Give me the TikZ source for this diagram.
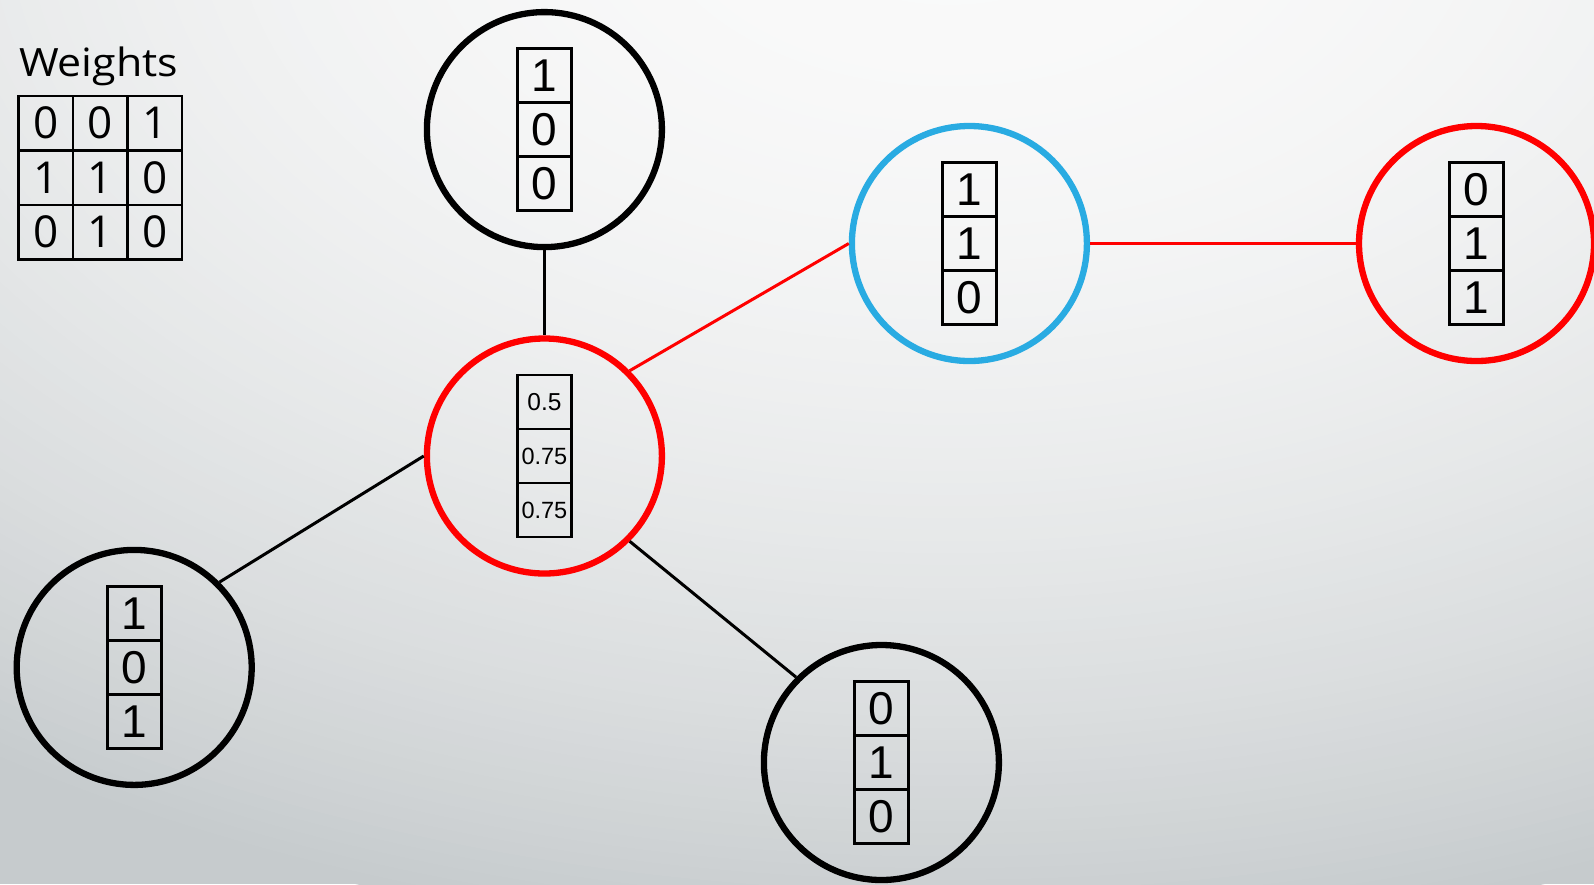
\documentclass[tikz,border=0pt]{standalone}
\usepackage{graphicx}
\usepackage{fontspec}
\setmainfont{Liberation Sans}
\newfontfamily\uifont{Open Sans}

% soft background glow, brightest near the top
\definecolor{glowlight}{HTML}{FAFAFA}
\definecolor{glowdark}{HTML}{C6CBCD}
\definecolor{netred}{RGB}{255,0,0}
\definecolor{netblue}{RGB}{41,171,226}

\newcommand\cellstack[5]{%
  \node[cell,#5] (#1-2) at (#1.center) {#3};
  \node[cell,#5] (#1-1) at ([yshift=54pt]#1.center) {#2};
  \node[cell,#5] (#1-3) at ([yshift=-54pt]#1.center) {#4};
}

\begin{document}
\begin{tikzpicture}[x=1pt,y=-1pt,
  vertex/.style={circle, draw, line width=6.3pt, minimum size=235pt, inner sep=0pt},
  cell/.style={rectangle, draw, line width=2.7pt, minimum width=54pt, minimum height=54pt,
               inner sep=0pt, outer sep=0pt},
  bigdigit/.style={font=\fontsize{46}{46}\selectfont},
  smalldigit/.style={font=\fontsize{23.5}{23.5}\selectfont},
  wcell/.style={cell, minimum width=54.5pt, minimum height=54.5pt, font=\uifont\fontsize{44}{44}\selectfont},
  link/.style={line width=3pt}]

\useasboundingbox (0,0) rectangle (1594,884);
% background: nested ellipses stepping from grey to near white
\begin{scope}
  \clip (0,0) rectangle (1594,884);
  \fill[glowdark] (0,0) rectangle (1594,884);
  \foreach \i in {90,89,...,1} {
    \pgfmathsetmacro\t{\i/90}
    \pgfmathsetmacro\p{100*\t*\t}
    \fill[glowdark!\p!glowlight] (950,-100) ellipse [x radius=1700pt*\t, y radius=1050pt*\t];
  }
\end{scope}

% vertices
\node[vertex] (top) at (544.4,129.6) {};
\node[vertex, draw=netred] (mid) at (544.4,456) {};
\node[vertex, draw=netblue] (win) at (969.4,243.5) {};
\node[vertex, draw=netred] (far) at (1476.5,243.5) {};
\node[vertex] (left) at (134.2,667.4) {};
\node[vertex] (low) at (881.4,762.5) {};

% connectors
\draw[link] (top.south) -- (mid.north);
\draw[link, netred] (mid.45) -- (win.west);
\draw[link, netred] (win.east) -- (far.west);
\draw[link] (left.45) -- (mid.west);
\draw[link] (mid.-45) -- (low.135);

% vectors held by each vertex
\cellstack{top}{1}{0}{0}{bigdigit}
\cellstack{mid}{\fontsize{24.5}{24.5}\selectfont 0.5}{0.75}{0.75}{smalldigit}
\cellstack{win}{1}{1}{0}{bigdigit}
\cellstack{far}{0}{1}{1}{bigdigit}
\cellstack{left}{1}{0}{1}{bigdigit}
\cellstack{low}{0}{1}{0}{bigdigit}

% weight matrix
\node[anchor=base west, font=\uifont\fontsize{39}{39}\selectfont] (wtitle) at (15.5,76) {\scalebox{1.1}[1]{Weights}};
\node[wcell] (w11) at (45.75,123.25) {0};
\node[wcell] (w12) at (100.25,123.25) {0};
\node[wcell] (w13) at (154.75,123.25) {1};
\node[wcell] (w21) at (45.75,177.75) {1};
\node[wcell] (w22) at (100.25,177.75) {1};
\node[wcell] (w23) at (154.75,177.75) {0};
\node[wcell] (w31) at (45.75,232.25) {0};
\node[wcell] (w32) at (100.25,232.25) {1};
\node[wcell] (w33) at (154.75,232.25) {0};
\end{tikzpicture}
\end{document}
